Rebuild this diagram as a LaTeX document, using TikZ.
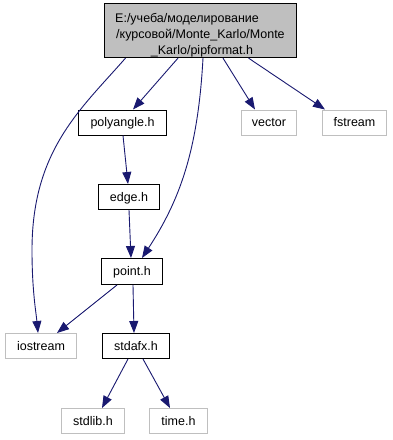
\documentclass[tikz,border=0pt]{standalone}
\usepackage{fontspec}
\setmainfont{Liberation Sans}
\usetikzlibrary{arrows.meta}
\definecolor{edgeblue}{HTML}{191970}
\definecolor{topfill}{HTML}{BFBFBF}
\definecolor{framegray}{HTML}{BFBFBF}
\begin{document}
\begin{tikzpicture}[x=1pt,y=-1pt,
  every node/.style={font=\fontsize{12.5}{15}\selectfont, inner sep=0pt},
  label/.style={text height=10pt, text depth=2pt},
  filebox/.style={draw=black, line width=1pt, fill=white, text height=10pt, text depth=2pt, minimum height=25pt},
  sysbox/.style={draw=framegray, line width=1pt, fill=white, text height=10pt, text depth=2pt, minimum height=25pt},
  dep/.style={draw=edgeblue, line width=0.9pt, -{Triangle[length=12pt,width=9pt]}}]
\useasboundingbox (0,0) rectangle (393,440);

% the file whose includes are shown
\node[draw=black, fill=topfill, line width=1.2pt, minimum width=192pt, minimum height=54pt] (top) at (200.5,30.5) {};
\node[anchor=base west] (l1) at (115,22.5) {E:/учеба/моделирование};
\node[anchor=base west] (l2) at (116,38.5) {/курсовой/Monte\_Karlo/Monte};
\node[anchor=base] (l3) at (202,54.5) {\_Karlo/pipformat.h};

% project headers
\node[filebox, minimum width=88pt] (polyangle) at (122.5,122.5) {polyangle.h};
\node[filebox, minimum width=61pt] (edge) at (129,197) {edge.h};
\node[filebox, minimum width=61pt, minimum height=26pt] (point) at (132,271.5) {point.h};
\node[filebox, minimum width=67pt] (stdafx) at (136,346) {stdafx.h};

% system headers
\node[sysbox, minimum width=55pt] (vector) at (269,122.5) {vector};
\node[sysbox, minimum width=64pt] (fstream) at (354.5,122.5) {fstream};
\node[sysbox, minimum width=71pt] (iostream) at (41,346) {iostream};
\node[sysbox, minimum width=63pt] (stdlib) at (93,421) {stdlib.h};
\node[sysbox, minimum width=58pt] (time) at (178.5,421) {time.h};

% include edges
\draw[dep] ([xshift=-75pt]top.south) .. controls (81,109) and (32,150) .. (32,250)
  .. controls (32,290) and (36,312) .. ([xshift=-3pt]iostream.north);
\draw[dep] ([xshift=-22.5pt]top.south) -- ([xshift=10.5pt]polyangle.north);
\draw[dep] ([xshift=2.5pt]top.south) .. controls (198,150) and (180,200) .. ([xshift=10pt]point.north);
\draw[dep] ([xshift=22.5pt]top.south) -- ([xshift=-14pt]vector.north);
\draw[dep] ([xshift=48pt]top.south) -- ([xshift=-29.5pt]fstream.north);
\draw[dep] ([xshift=0.5pt]polyangle.south) -- ([xshift=-1pt]edge.north);
\draw[dep] (edge.south) -- ([xshift=-1pt]point.north);
\draw[dep] ([xshift=-15pt]point.south) -- ([xshift=16pt]iostream.north);
\draw[dep] ([xshift=1pt]point.south) -- ([xshift=-2pt]stdafx.north);
\draw[dep] ([xshift=-8pt]stdafx.south) -- ([xshift=9pt]stdlib.north);
\draw[dep] ([xshift=7pt]stdafx.south) -- ([xshift=-8.5pt]time.north);
\end{tikzpicture}
\end{document}
